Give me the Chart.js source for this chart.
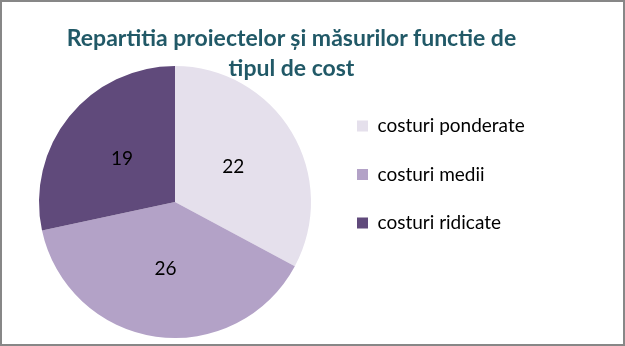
<!DOCTYPE html>
<html>
<head>
<meta charset="utf-8">
<script src="https://cdn.jsdelivr.net/npm/chart.js@4.4.1/dist/chart.umd.min.js"></script>
<style>
  html, body { margin: 0; padding: 0; background: #fff; }
  #wrap { position: relative; width: 625px; height: 346px; }
  #title {
    position: absolute; left: 0; top: 22px; width: 583px;
    text-align: center; font: bold 23px Lato, sans-serif; line-height: 30px;
    color: #215967;
  }
  #frame {
    position: absolute; left: 0; top: 0; width: 621px; height: 342px;
    border: 2px solid #878787; pointer-events: none;
  }
</style>
</head>
<body>
<div id="wrap">
  <canvas id="pieChart" width="625" height="346"></canvas>
  <div id="title">Repartitia proiectelor și măsurilor functie de<br>tipul de cost</div>
  <div id="frame"></div>
</div>
<script>
// date
const categories = ["costuri ponderate", "costuri medii", "costuri ridicate"];
const values = [22, 26, 19];
const colors = ["#E5E0EC", "#B3A2C7", "#604A7B"];

// etichete cu valorile in interiorul feliilor
const sliceLabels = {
    id: 'sliceLabels',
    afterDatasetsDraw(chart) {
        const ctx = chart.ctx;
        const meta = chart.getDatasetMeta(0);
        ctx.save();
        ctx.font = '19px Lato, sans-serif';
        ctx.fillStyle = '#000';
        ctx.textAlign = 'center';
        ctx.textBaseline = 'middle';
        meta.data.forEach((arc, i) => {
            const mid = (arc.startAngle + arc.endAngle) / 2;
            const r = arc.outerRadius * 0.5;
            ctx.fillText(String(values[i]), arc.x + Math.cos(mid) * r, arc.y + Math.sin(mid) * r);
        });
        ctx.restore();
    }
};

const ctx = document.getElementById('pieChart').getContext('2d');
const myChart = new Chart(ctx, {
    type: 'pie',
    data: {
        labels: categories,
        datasets: [{
            data: values,
            backgroundColor: colors,
            borderWidth: 0
        }]
    },
    options: {
        responsive: false,
        animation: false,
        layout: { padding: { top: 66, bottom: 8, left: 22.5, right: 97.5 } },
        plugins: {
            tooltip: { enabled: false },
            legend: {
                position: 'right',
                align: 'start',
                maxWidth: 200,
                title: { display: true, text: ' ', font: { size: 12 }, padding: { top: 0, bottom: 6.6 } },
                labels: {
                    boxWidth: 11,
                    boxHeight: 11,
                    padding: 29.5,
                    color: '#000',
                    font: { family: 'Lato, sans-serif', size: 19 }
                }
            }
        }
    },
    plugins: [sliceLabels]
});
</script>
</body>
</html>
